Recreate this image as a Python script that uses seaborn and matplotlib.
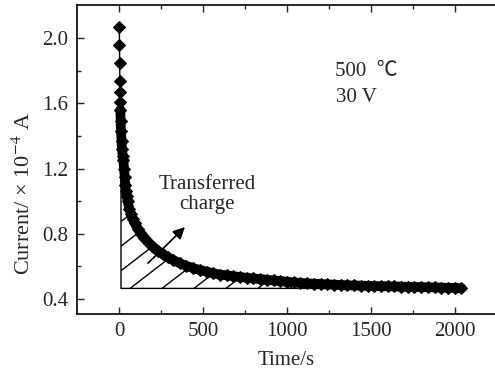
import numpy as np
import pandas as pd
import seaborn as sns
import matplotlib
matplotlib.use("Agg")
import matplotlib.pyplot as plt

# ---------------------------------------------------------
# data (time in s, current in 1e-4 A)
# ---------------------------------------------------------
time_s = [0, 1, 2, 3, 4, 5, 6, 8, 10, 13, 16, 20, 24, 28, 32, 36, 40, 45, 50,
          60, 70, 80, 93, 110, 130, 150, 175, 200, 230, 260, 290, 320, 360,
          400, 440, 480, 520, 560, 600, 640, 680, 720, 760, 800, 840, 880,
          920, 960, 1000, 1040, 1080, 1120, 1160, 1200, 1240, 1280, 1320,
          1360, 1400, 1440, 1480, 1520, 1560, 1600, 1640, 1680, 1720, 1760,
          1800, 1840, 1880, 1920, 1960, 2000, 2040]
current = [2.07, 1.96, 1.85, 1.74, 1.67, 1.61, 1.56, 1.49, 1.43, 1.37, 1.32,
           1.28, 1.25, 1.20, 1.15, 1.10, 1.06, 1.03, 1.00, 0.95, 0.92, 0.89,
           0.865, 0.83, 0.80, 0.775, 0.745, 0.72, 0.695, 0.675, 0.655, 0.64,
           0.62, 0.603, 0.59, 0.578, 0.568, 0.558, 0.55, 0.545, 0.540, 0.535,
           0.530, 0.526, 0.522, 0.518, 0.514, 0.510, 0.506, 0.502, 0.499,
           0.496, 0.494, 0.492, 0.490, 0.488, 0.486, 0.484, 0.483, 0.482,
           0.481, 0.480, 0.479, 0.478, 0.477, 0.476, 0.475, 0.474, 0.473,
           0.472, 0.471, 0.470, 0.469, 0.468, 0.467]

charge_start = 10      # s, left edge of the shaded area
charge_base = 0.465    # baseline of the shaded area

df = pd.DataFrame({"Time": time_s, "Current": current})

sns.set_style("ticks")
plt.rcParams["font.family"] = ["Liberation Serif", "DejaVu Serif"]
plt.rcParams["mathtext.fontset"] = "stix"

fig = plt.figure(figsize=(4.95, 3.8), dpi=100)
ax = fig.add_axes([0.155, 0.1737, 0.845, 0.814])

# shaded "transferred charge" area
sub = df[df["Time"] >= charge_start]
poly = ax.fill_between(sub["Time"], charge_base, sub["Current"],
                       facecolor="none", edgecolor="black", linewidth=1.0,
                       zorder=1)

ax.set_xlim(-254, 2240)
ax.set_ylim(0.308, 2.206)

# sparse hatch lines, clipped to the shaded area
clip_path = poly.get_paths()[0]
slope = 0.000793
for t0 in np.arange(64 - 190.6 * 8, 2100, 190.6):
    tt = np.array([t0, t0 + 2500])
    ln, = ax.plot(tt, charge_base + slope * (tt - t0), color="black",
                  linewidth=1.0, zorder=1)
    ln.set_clip_path(clip_path, transform=ax.transData)

# dense part of the record shows up as a solid band
band = df[df["Time"] >= 6]
sns.lineplot(data=band, x="Time", y="Current", color="black",
             linewidth=7, sort=False, ax=ax, zorder=2)
sns.lineplot(data=df, x="Time", y="Current", color="black", marker="D",
             markersize=6, markeredgecolor="black", linewidth=1.0,
             sort=False, ax=ax, zorder=3)

ax.set_xticks([0, 500, 1000, 1500, 2000])
ax.set_yticks([0.4, 0.8, 1.2, 1.6, 2.0])
ax.set_yticklabels(["0.4", "0.8", "1.2", "1.6", "2.0"])
ax.set_xticks([250, 750, 1250, 1750], minor=True)
ax.set_yticks([0.6, 1.0, 1.4, 1.8], minor=True)
ax.tick_params(which="major", direction="in", length=5, width=1,
               labelsize=15, top=True, pad=6)
ax.tick_params(which="minor", direction="in", length=3, width=1, top=True)
ax.spines["right"].set_visible(False)
for s in ["left", "bottom", "top"]:
    ax.spines[s].set_linewidth(1.2)
    ax.spines[s].set_color("black")

ax.set_xlabel("Time/s", fontsize=15, labelpad=7)
ax.set_ylabel("Current/ × 10$^{-4}$ A", fontsize=16)
ax.yaxis.set_label_coords(-0.1, 0.39)

ax.text(1470, 1.795, "500  ℃", fontsize=15, ha="center", va="center",
        family=["Liberation Serif", "Noto Sans CJK SC"])
ax.text(1416, 1.635, "30 V", fontsize=15, ha="center", va="center")
ax.text(522, 1.04, "Transferred\ncharge", fontsize=15, ha="center",
        va="center", linespacing=1.05)
ax.annotate("", xy=(403, 0.853), xytext=(159, 0.608),
            arrowprops=dict(arrowstyle="-|>,head_length=0.7,head_width=0.35",
                            color="black", lw=1.2))

fig.savefig("out.png", dpi=100)
